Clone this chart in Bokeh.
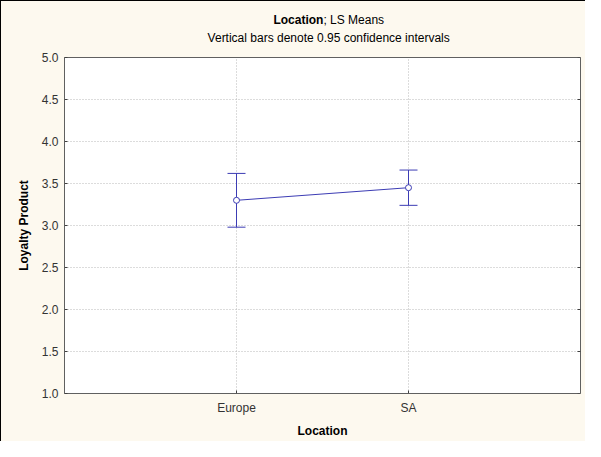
from bokeh.plotting import figure
from bokeh.layouts import column
from bokeh.models import Range1d, FixedTicker, CustomJSTickFormatter
from bokeh.core.properties import value
from bokeh.embed import file_html
from bokeh.resources import INLINE

# Data
categories = ["Europe", "SA"]
x_pos = [0, 1]
means = [3.30, 3.45]
upper = [3.62, 3.66]
lower = [2.98, 3.24]
y_ticks = [1.0, 1.5, 2.0, 2.5, 3.0, 3.5, 4.0, 4.5, 5.0]
title_bold = "Location"
title_rest = "; LS Means"
subtitle = "Vertical bars denote 0.95 confidence intervals"

BG = "#fdf9ef"
BLUE = "#3c3cb4"
FONT = "Liberation Sans"
W = 584

# ---- title strip ----
t = figure(output_backend="svg", toolbar_location=None, width=W, height=44,
           x_range=Range1d(0, W), y_range=Range1d(44, 0),
           min_border=0, min_border_left=0, min_border_right=0,
           min_border_top=0, min_border_bottom=0)
t.axis.visible = False
t.grid.visible = False
t.outline_line_color = None
t.background_fill_color = BG
t.border_fill_color = BG
t.text(x=[293], y=[18], text=[title_bold], text_font=value(FONT),
       text_font_size="12px", text_font_style="bold", text_align="right",
       text_baseline="middle", text_color="black")
t.text(x=[293], y=[18], text=[title_rest], text_font=value(FONT),
       text_font_size="12px", text_align="left", text_baseline="middle",
       text_color="black")
t.text(x=[299], y=[36], text=[subtitle], text_font=value(FONT),
       text_font_size="12px", text_align="center", text_baseline="middle",
       text_color="black")

# ---- main plot ----
p = figure(output_backend="svg", toolbar_location=None,
           frame_width=516, frame_height=336,
           min_border_left=63, min_border_right=5,
           min_border_top=12, min_border_bottom=48,
           x_range=Range1d(-1, 2), y_range=Range1d(1, 5))
p.width = W
p.height = 396
p.background_fill_color = "white"
p.border_fill_color = BG
p.outline_line_color = "#606060"
p.outline_line_width = 1

p.xaxis.ticker = FixedTicker(ticks=x_pos)
p.xaxis.major_label_overrides = {x: c for x, c in zip(x_pos, categories)}
p.yaxis.ticker = FixedTicker(ticks=y_ticks)
p.yaxis.formatter = CustomJSTickFormatter(code="return tick.toFixed(1)")
for ax in (p.xaxis[0], p.yaxis[0]):
    ax.axis_line_color = None
    ax.major_tick_in = 3
    ax.major_tick_out = 0
    ax.major_tick_line_color = "#404040"
    ax.minor_tick_line_color = None
    ax.major_label_text_font = FONT
    ax.major_label_text_font_size = "12px"
    ax.major_label_text_color = "#333333"
    ax.axis_label_text_font = FONT
    ax.axis_label_text_font_size = "12px"
    ax.axis_label_text_font_style = "bold"
    ax.axis_label_text_color = "black"
p.xaxis.axis_label = "Location"
p.yaxis.axis_label = "Loyalty Product"
p.xaxis.major_label_standoff = 7
p.xaxis.axis_label_standoff = 6
p.yaxis.major_label_standoff = 6
p.yaxis.axis_label_standoff = 8

# grid
p.xgrid.grid_line_color = "#b8b8b8"
p.xgrid.grid_line_dash = "1 2"
p.ygrid.grid_line_color = "#b8b8b8"
p.ygrid.grid_line_dash = "1 2"
p.ygrid.ticker = FixedTicker(ticks=y_ticks)

# right-edge inner ticks (clipped dash markers at the range end)
p.scatter(x=[p.x_range.end] * len(y_ticks), y=y_ticks, marker="dash", size=6,
          line_color="#404040", line_width=1)

# data
p.segment(x0=x_pos, y0=lower, x1=x_pos, y1=upper, line_color=BLUE, line_width=1)
p.scatter(x=x_pos, y=upper, marker="dash", size=18, line_color=BLUE, line_width=1)
p.scatter(x=x_pos, y=lower, marker="dash", size=18, line_color=BLUE, line_width=1)
p.line(x=x_pos, y=means, line_color=BLUE, line_width=1)
p.scatter(x=x_pos, y=means, marker="circle", size=6, line_color=BLUE,
          fill_color="white", line_width=1)

layout = column(t, p, spacing=0)
layout.styles = {"border-top": "1px solid black", "border-left": "1px solid black",
                 "background-color": BG}

open("out.html", "w").write(file_html(layout, INLINE))
